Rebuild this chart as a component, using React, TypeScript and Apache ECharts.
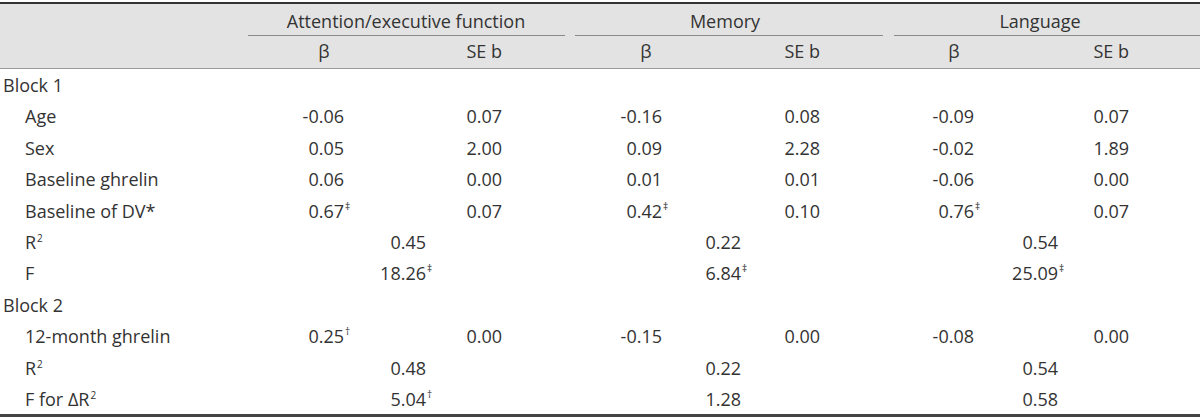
import React, { useEffect, useRef } from "react";
import * as echarts from "echarts";

// ---- data ----
const rowLabels = [
  "Block 1",
  "Age",
  "Sex",
  "Baseline ghrelin",
  "Baseline of DV*",
  "R{sup|2}",
  "F",
  "Block 2",
  "12-month ghrelin",
  "R{sup|2}",
  "F for ΔR{sup|2}",
];
const rowIndent = [0, 1, 1, 1, 1, 1, 1, 0, 1, 1, 1];
const groups = ["Attention/executive function", "Memory", "Language"];
const subHeaders = ["β", "SE b"];

const attentionBeta = [null, "-0.06", "0.05", "0.06", "0.67‡", null, null, null, "0.25†", null, null];
const attentionSE = [null, "0.07", "2.00", "0.00", "0.07", null, null, null, "0.00", null, null];
const attentionModel = [null, null, null, null, null, "0.45", "18.26‡", null, null, "0.48", "5.04†"];

const memoryBeta = [null, "-0.16", "0.09", "0.01", "0.42‡", null, null, null, "-0.15", null, null];
const memorySE = [null, "0.08", "2.28", "0.01", "0.10", null, null, null, "0.00", null, null];
const memoryModel = [null, null, null, null, null, "0.22", "6.84‡", null, null, "0.22", "1.28"];

const languageBeta = [null, "-0.09", "-0.02", "-0.06", "0.76‡", null, null, null, "-0.08", null, null];
const languageSE = [null, "0.07", "1.89", "0.00", "0.07", null, null, null, "0.00", null, null];
const languageModel = [null, null, null, null, null, "0.54", "25.09‡", null, null, "0.54", "0.58"];

const betaCols = [attentionBeta, memoryBeta, languageBeta];
const seCols = [attentionSE, memorySE, languageSE];
const modelCols = [attentionModel, memoryModel, languageModel];

// ---- layout ----
const FONT = "'Open Sans'";
const FS = 18;
const TXT = "#333333";
const groupSpans = [
  [248, 565],
  [575, 883],
  [894, 1200],
];
const groupHeadX = [406, 725, 1040];
const betaHeadX = [324, 646, 954];
const betaRight = [344, 662, 974];
const seRight = [502, 820, 1129];
const modelRight = [426, 741, 1058];
const ROW0 = 85;
const ROW_H = 31.4;

function valueEls(val: string | null, right: number, y: number): any[] {
  if (!val) return [];
  const m = val.match(/^([^†‡]+)([†‡]?)$/);
  const num = m ? m[1] : val;
  const mark = m ? m[2] : "";
  const els: any[] = [
    {
      type: "text",
      x: right,
      y,
      style: { text: num, fill: TXT, font: `${FS}px ${FONT}`, textAlign: "right", textVerticalAlign: "middle" },
    },
  ];
  if (mark) {
    els.push({
      type: "text",
      x: right + 1,
      y: y - 5,
      style: { text: mark, fill: TXT, font: `10px ${FONT}`, textAlign: "left", textVerticalAlign: "middle" },
    });
  }
  return els;
}

export default function App() {
  const ref = useRef<HTMLDivElement>(null);
  useEffect(() => {
    if (!ref.current) return;
    const chart = echarts.init(ref.current, null, { renderer: "svg" });
    const els: any[] = [];
    // header background
    els.push({ type: "rect", shape: { x: 0, y: 4, width: 1200, height: 64 }, style: { fill: "#e3e3e3" } });
    els.push({ type: "rect", shape: { x: 0, y: 2, width: 1200, height: 2 }, style: { fill: "#333" } });
    els.push({ type: "line", shape: { x1: 0, y1: 68.5, x2: 1200, y2: 68.5 }, style: { stroke: "#9a9a9a", lineWidth: 1 } });
    els.push({ type: "rect", shape: { x: 0, y: 414, width: 1200, height: 3 }, style: { fill: "#444" } });

    groups.forEach((g, gi) => {
      const [a, b] = groupSpans[gi];
      els.push({
        type: "text",
        x: groupHeadX[gi],
        y: 21,
        style: { text: g, fill: TXT, font: `${FS}px ${FONT}`, textAlign: "center", textVerticalAlign: "middle" },
      });
      els.push({ type: "line", shape: { x1: a, y1: 35.5, x2: b, y2: 35.5 }, style: { stroke: "#8a8a8a", lineWidth: 1 } });
      els.push({
        type: "text",
        x: betaHeadX[gi],
        y: 51,
        style: { text: subHeaders[0], fill: TXT, font: `${FS}px ${FONT}`, textAlign: "center", textVerticalAlign: "middle" },
      });
      els.push({
        type: "text",
        x: seRight[gi],
        y: 51,
        style: { text: subHeaders[1], fill: TXT, font: `${FS}px ${FONT}`, textAlign: "right", textVerticalAlign: "middle" },
      });
    });

    rowLabels.forEach((lab, i) => {
      const y = ROW0 + i * ROW_H;
      els.push({
        type: "text",
        x: rowIndent[i] ? 25 : 3,
        y,
        style: {
          text: lab,
          fill: TXT,
          font: `${FS}px ${FONT}`,
          textAlign: "left",
          textVerticalAlign: "middle",
          rich: { sup: { fontSize: 10, fontFamily: FONT, fill: TXT, verticalAlign: "top", padding: [0, 0, 8, 1] } },
        },
      });
      for (let gi = 0; gi < 3; gi++) {
        els.push(...valueEls(betaCols[gi][i], betaRight[gi], y));
        els.push(...valueEls(seCols[gi][i], seRight[gi], y));
        els.push(...valueEls(modelCols[gi][i], modelRight[gi], y));
      }
    });

    chart.setOption({ animation: false, backgroundColor: "#fff", graphic: { elements: els } });
    return () => chart.dispose();
  }, []);
  return <div ref={ref} style={{ position: "fixed", left: 0, top: 0, width: 1200, height: 420 }} />;
}
